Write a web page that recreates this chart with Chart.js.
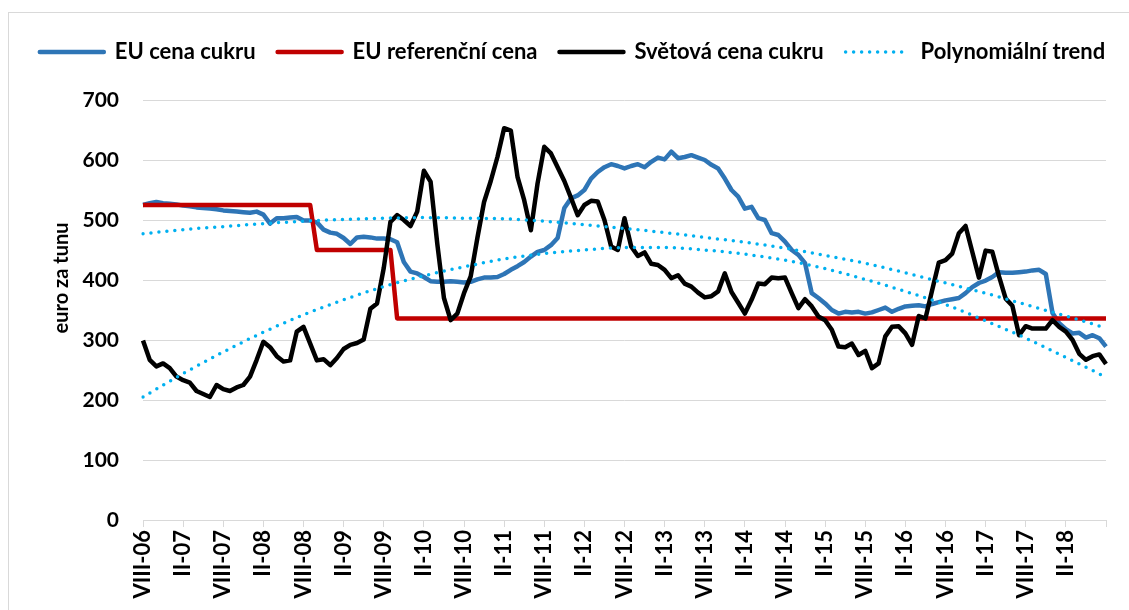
<!DOCTYPE html>
<html>
<head>
<meta charset="utf-8">
<title>Cena cukru</title>
<script src="https://cdn.jsdelivr.net/npm/chart.js@4.4.1/dist/chart.umd.min.js"></script>
<style>
  html, body { margin: 0; padding: 0; background: #fff; }
  #wrap { position: relative; width: 1129px; height: 610px; overflow: hidden; }
  #frame { position: absolute; left: 8px; top: 12px; width: 1140px; height: 620px; border: 1px solid #d9d9d9; }
  #chart { position: absolute; left: 0; top: 0; }
</style>
</head>
<body>
<div id="wrap">
  <div id="frame"></div>
  <canvas id="chart" width="1129" height="610"></canvas>
</div>
<script>
// monthly categories VIII-06 .. VIII-18
const romanMonths = ['I', 'II', 'III', 'IV', 'V', 'VI', 'VII', 'VIII', 'IX', 'X', 'XI', 'XII'];
const months = [];
for (let i = 0; i < 145; i++) {
  const m = (7 + i) % 12;
  const yr = 6 + Math.floor((7 + i) / 12);
  months.push(romanMonths[m] + '-' + String(yr).padStart(2, '0'));
}

// EU cena cukru (euro/t)
const euCena = [
  525, 528, 530, 528, 527, 526, 524, 523, 521, 520,
  519, 518, 516, 515, 514, 513, 512, 514, 509, 494,
  503, 503, 504, 505, 499, 499, 496, 484, 479, 477,
  470, 460, 471, 472, 471, 469, 469, 468, 463, 430,
  414, 411, 405, 398, 397, 397, 398, 397, 396, 397,
  401, 404, 404, 405, 410, 417, 423, 430, 439, 447,
  450, 458, 470, 520, 536, 541, 550, 569, 580, 588,
  593, 590, 586, 590, 593, 588, 597, 604, 601, 614,
  603, 605, 608, 604, 600, 592, 586, 569, 550, 539,
  519, 522, 503, 500, 478, 475, 464, 450, 442, 428,
  378, 370, 361, 350, 344, 347, 346, 347, 344, 346,
  350, 354, 347, 352, 356, 357, 358, 356, 360, 363,
  366, 368, 370, 378, 388, 395, 399, 405, 413, 412,
  412, 413, 414, 416, 417, 410, 345, 328, 318, 311,
  312, 304, 308, 303, 289
];

// EU referenční cena
const euReferencni = [
  525, 525, 525, 525, 525, 525, 525, 525, 525, 525, 525, 525, 525,
  525, 525, 525, 525, 525, 525, 525, 525, 525, 525, 525, 525, 525,
  450, 450, 450, 450, 450, 450, 450, 450, 450, 450, 450, 450,
  336, 336, 336, 336, 336, 336, 336, 336, 336, 336, 336, 336, 336,
  336, 336, 336, 336, 336, 336, 336, 336, 336, 336, 336, 336, 336,
  336, 336, 336, 336, 336, 336, 336, 336, 336, 336, 336, 336, 336,
  336, 336, 336, 336, 336, 336, 336, 336, 336, 336, 336, 336, 336,
  336, 336, 336, 336, 336, 336, 336, 336, 336, 336, 336, 336, 336,
  336, 336, 336, 336, 336, 336, 336, 336, 336, 336, 336, 336, 336,
  336, 336, 336, 336, 336, 336, 336, 336, 336, 336, 336, 336, 336,
  336, 336, 336, 336, 336, 336, 336, 336, 336, 336, 336, 336, 336,
  336, 336, 336
];

// Světová cena cukru
const svetovaCena = [
  299, 267, 256, 261, 253, 239, 233, 229, 215, 210,
  205, 225, 218, 215, 221, 225, 239, 267, 297, 288,
  273, 264, 266, 314, 322, 294, 266, 268, 258, 270,
  285, 292, 295, 301, 352, 361, 420, 497, 508, 500,
  490, 514, 582, 564, 461, 370, 333, 344, 378, 406,
  470, 530, 565, 605, 653, 649, 572, 533, 483, 561,
  622, 611, 588, 565, 537, 508, 525, 532, 531, 500,
  456, 450, 503, 456, 440, 446, 427, 425, 417, 403,
  408, 394, 389, 379, 371, 373, 381, 411, 380, 362,
  344, 367, 394, 393, 404, 403, 404, 378, 353, 368,
  356, 339, 333, 317, 289, 288, 294, 275, 282, 253,
  261, 306, 322, 323, 311, 292, 340, 336, 383, 429,
  433, 444, 478, 490, 447, 404, 449, 447, 406, 369,
  357, 308, 323, 319, 319, 319, 333, 322, 314, 300,
  277, 267, 273, 276, 260
];

// polynomial trends, read every 6 months (VIII-06, II-07, ...)
const trendEU = [477, 484, 489, 494, 498, 501, 503, 504, 503, 502, 498, 492, 486,
                 479, 471, 463, 453, 441, 428, 412, 395, 378, 359, 340, 320];
const trendSvet = [205, 244, 280, 313, 342, 367, 389, 407, 422, 435, 444, 450, 454,
                   454, 450, 443, 433, 419, 401, 381, 359, 332, 303, 271, 238];

const yTitle = 'euro za tunu';

const toPoints = arr => arr.map((v, i) => ({ x: months[i * 6], y: v }));

Chart.defaults.font.family = 'Lato, "Open Sans", sans-serif';
Chart.defaults.font.weight = 'bold';
Chart.defaults.color = '#000';

// fixed legend block height so the plot starts where the original does
const legendHeight = {
  id: 'legendHeight',
  beforeInit(chart) {
    const fit = chart.legend.fit;
    chart.legend.fit = function () {
      fit.bind(chart.legend)();
      this.height = 81;
    };
  }
};

// y axis title, placed like in the original (a bit above the middle)
const axisTitle = {
  id: 'axisTitle',
  afterDraw(chart) {
    const c = chart.ctx;
    c.save();
    c.translate(62, 278);
    c.rotate(-Math.PI / 2);
    c.font = 'bold 20px Lato, "Open Sans", sans-serif';
    c.fillStyle = '#000';
    c.textAlign = 'center';
    c.textBaseline = 'middle';
    c.fillText(yTitle, 0, 0);
    c.restore();
  }
};

const trendStyle = {
  borderColor: '#00b0f0',
  borderWidth: 3.5,
  borderDash: [0, 8],
  borderCapStyle: 'round',
  cubicInterpolationMode: 'monotone',
  order: 1
};

const ctx = document.getElementById('chart').getContext('2d');
new Chart(ctx, {
  type: 'line',
  data: {
    labels: months,
    datasets: [
      { label: 'EU cena cukru', data: euCena, borderColor: '#2e75b6', borderWidth: 4.5, order: 4 },
      { label: 'EU referenční cena', data: euReferencni, borderColor: '#c00000', borderWidth: 4.5, order: 3 },
      { label: 'Světová cena cukru', data: svetovaCena, borderColor: '#000000', borderWidth: 4.5, order: 2 },
      Object.assign({ label: 'Polynomiální trend', data: toPoints(trendEU) }, trendStyle),
      Object.assign({ label: 'Polynomiální trend 2', data: toPoints(trendSvet) }, trendStyle)
    ]
  },
  options: {
    responsive: false,
    animation: false,
    elements: {
      point: { radius: 0, hoverRadius: 0, hitRadius: 0 },
      line: { tension: 0, borderJoinStyle: 'round', fill: false }
    },
    layout: { padding: { top: 19, right: 0, bottom: 0, left: 16 } },
    plugins: {
      tooltip: { enabled: false },
      legend: {
        position: 'top',
        labels: {
          usePointStyle: true,
          pointStyle: 'line',
          pointStyleWidth: 64,
          padding: 22,
          color: '#000',
          font: { size: 22, weight: 'bold' },
          sort: (a, b) => a.datasetIndex - b.datasetIndex,
          filter: item => item.datasetIndex !== 4,
          generateLabels(chart) {
            const items = Chart.defaults.plugins.legend.labels.generateLabels(chart);
            return items.map(it => {
              const ds = chart.data.datasets[it.datasetIndex];
              it.strokeStyle = ds.borderColor;
              it.lineWidth = ds.borderWidth;
              it.lineDash = ds.borderDash || [];
              it.lineCap = 'round';
              return it;
            });
          }
        }
      }
    },
    scales: {
      x: {
        grid: {
          drawOnChartArea: false,
          drawTicks: true,
          tickLength: 7,
          lineWidth: 1,
          color: c => (c.index % 6 === 0 ? '#d9d9d9' : 'rgba(0,0,0,0)')
        },
        border: { display: true, color: '#d9d9d9', width: 1 },
        ticks: {
          autoSkip: false,
          minRotation: 90,
          maxRotation: 90,
          padding: 3,
          font: { size: 22, weight: 'bold' },
          callback: (v, i) => (i % 6 === 0 && i < 144 ? months[i] : '')
        },
        afterFit(s) {
          s.height = 90;
          s.paddingLeft = 0;
          s.paddingRight = 23;
        }
      },
      y: {
        min: 0,
        max: 700,
        ticks: { stepSize: 100, padding: 24, font: { size: 21, weight: 'bold' } },
        grid: { color: '#d9d9d9', lineWidth: 1, drawTicks: false },
        border: { display: false },
        afterFit(s) { s.width = 127; }
      }
    }
  },
  plugins: [legendHeight, axisTitle]
});
</script>
</body>
</html>
